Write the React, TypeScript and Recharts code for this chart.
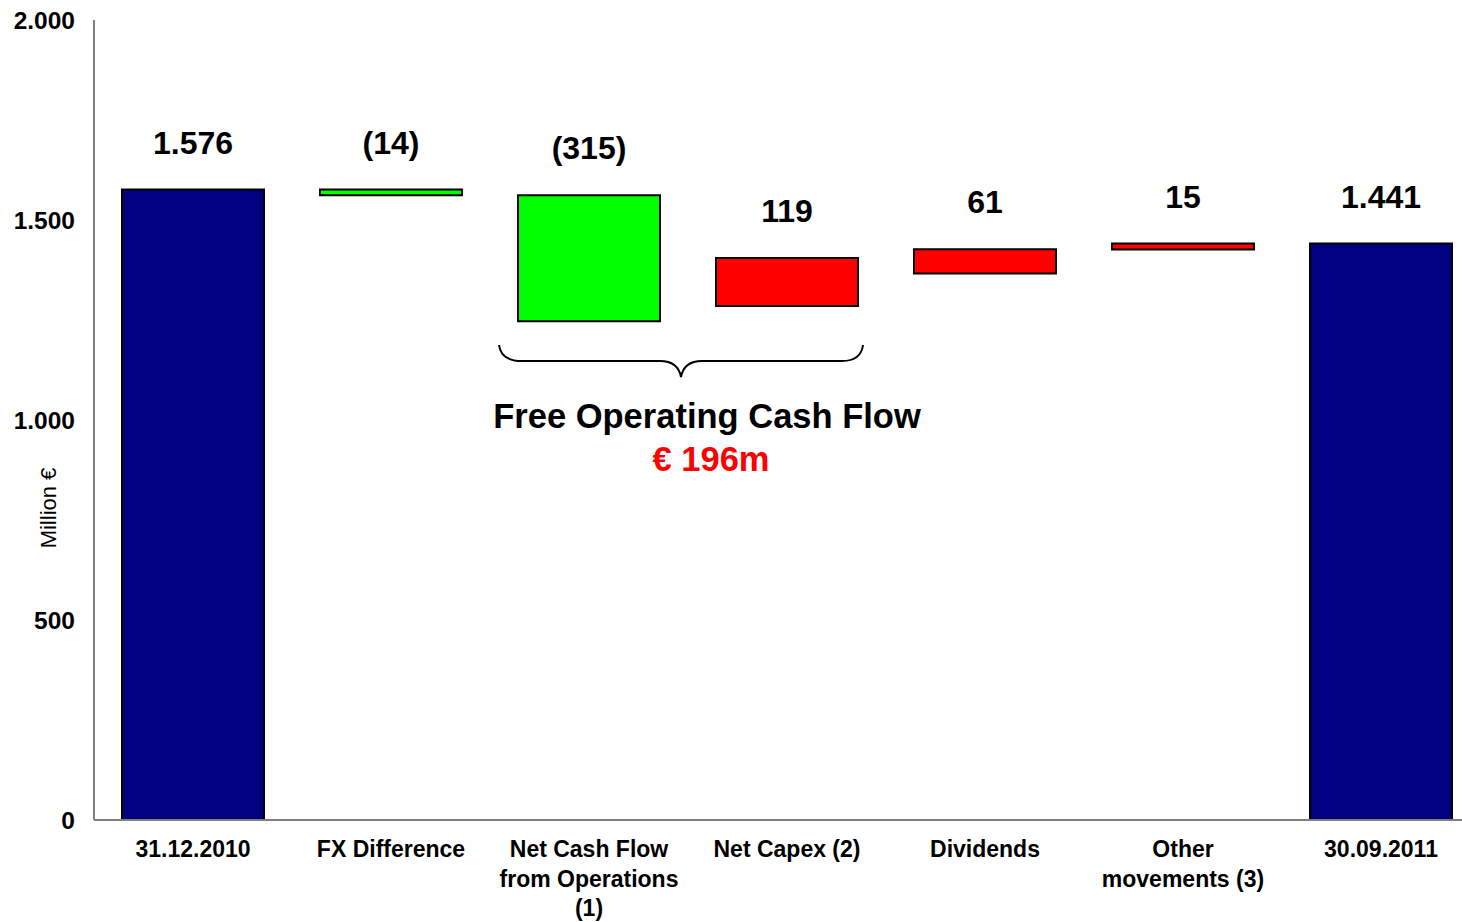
import React from 'react';
import { BarChart, Bar, XAxis, YAxis, Cell, LabelList } from 'recharts';

const categories = [
  '31.12.2010',
  'FX Difference',
  'Net Cash Flow\nfrom Operations\n(1)',
  'Net Capex (2)',
  'Dividends',
  'Other\nmovements (3)',
  '30.09.2011',
];
// invisible floor of each waterfall step, and the visible step itself
const bases = [0, 1562, 1247, 1285, 1366, 1426, 0];
const amounts = [1576, 14, 315, 120, 61, 15, 1441];
const valueLabels = ['1.576', '(14)', '(315)', '119', '61', '15', '1.441'];
const barColors = ['#000080', '#00FF00', '#00FF00', '#FF0000', '#FF0000', '#FF0000', '#000080'];
const yTicks = [0, 500, 1000, 1500, 2000];

const chartData = categories.map((name, i) => ({
  name,
  base: bases[i],
  amount: amounts[i],
  label: valueLabels[i],
}));

const FONT = '"Liberation Sans", Arial, Helvetica, sans-serif';

const fmtThousands = (v: number) =>
  v >= 1000 ? `${Math.floor(v / 1000)}.${String(v % 1000).padStart(3, '0')}` : String(v);

const XTick = (props: any) => {
  const { x, y, payload } = props;
  const lines = String(payload.value).split('\n');
  return (
    <text textAnchor="middle" fontFamily={FONT} fontSize={23} fontWeight="bold" fill="#000">
      {lines.map((l, i) => (
        <tspan key={i} x={x} y={y + 29 + i * 29.5} dominantBaseline="central">
          {l}
        </tspan>
      ))}
    </text>
  );
};

const YLabel = (p: any) => {
  const vb = p.viewBox ?? { x: 0, y: 20, width: 94, height: 800 };
  const cx = vb.x + 48;
  const cy = vb.y + vb.height * 0.61;
  return (
    <text
      x={cx}
      y={cy}
      transform={`rotate(-90 ${cx} ${cy})`}
      textAnchor="middle"
      dominantBaseline="central"
      fontFamily={FONT}
      fontSize={22}
      fill="#000"
    >
      Million €
    </text>
  );
};

export default function App() {
  return (
    <div
      style={{
        position: 'fixed',
        left: 0,
        top: 0,
        width: 1462,
        height: 922,
        overflow: 'hidden',
        background: '#fff',
      }}
    >
      <BarChart
        width={1480}
        height={922}
        data={chartData}
        margin={{ top: 20, right: 0, bottom: 0, left: 0 }}
        barSize={142}
      >
        <XAxis
          dataKey="name"
          height={102}
          interval={0}
          tickSize={0}
          tickMargin={0}
          tickLine={false}
          axisLine={{ stroke: '#808080', strokeWidth: 2 }}
          tick={<XTick />}
        />
        <YAxis
          width={94}
          domain={[0, 2000]}
          ticks={yTicks}
          interval={0}
          tickSize={0}
          tickMargin={19}
          tickLine={false}
          axisLine={{ stroke: '#808080', strokeWidth: 2 }}
          tickFormatter={fmtThousands}
          tick={{ fontSize: 24.5, fontWeight: 'bold', fill: '#000', fontFamily: FONT }}
          label={{ content: YLabel }}
        />
        <Bar dataKey="base" stackId="w" fill="transparent" isAnimationActive={false} />
        <Bar dataKey="amount" stackId="w" stroke="#000" strokeWidth={2} isAnimationActive={false}>
          {chartData.map((_, i) => (
            <Cell key={`c-${i}`} fill={barColors[i]} />
          ))}
          <LabelList
            dataKey="label"
            position="top"
            offset={36}
            fill="#000"
            fontSize={32}
            fontWeight="bold"
            fontFamily={FONT}
          />
        </Bar>
      </BarChart>
      <svg
        width={1462}
        height={922}
        style={{ position: 'absolute', left: 0, top: 0, pointerEvents: 'none' }}
      >
        <path
          d="M499,345 Q501,361 522,361 L660,361 Q678,361 681,377 Q684,361 702,361 L842,361 Q861,361 863,345"
          fill="none"
          stroke="#000"
          strokeWidth={2}
        />
        <text
          x={707}
          y={416}
          textAnchor="middle"
          dominantBaseline="central"
          fontFamily={FONT}
          fontSize={34.5}
          fontWeight="bold"
          fill="#000"
        >
          Free Operating Cash Flow
        </text>
        <text
          x={711}
          y={459}
          textAnchor="middle"
          dominantBaseline="central"
          fontFamily={FONT}
          fontSize={34.5}
          fontWeight="bold"
          fill="#FF0000"
        >
          € 196m
        </text>
      </svg>
    </div>
  );
}
